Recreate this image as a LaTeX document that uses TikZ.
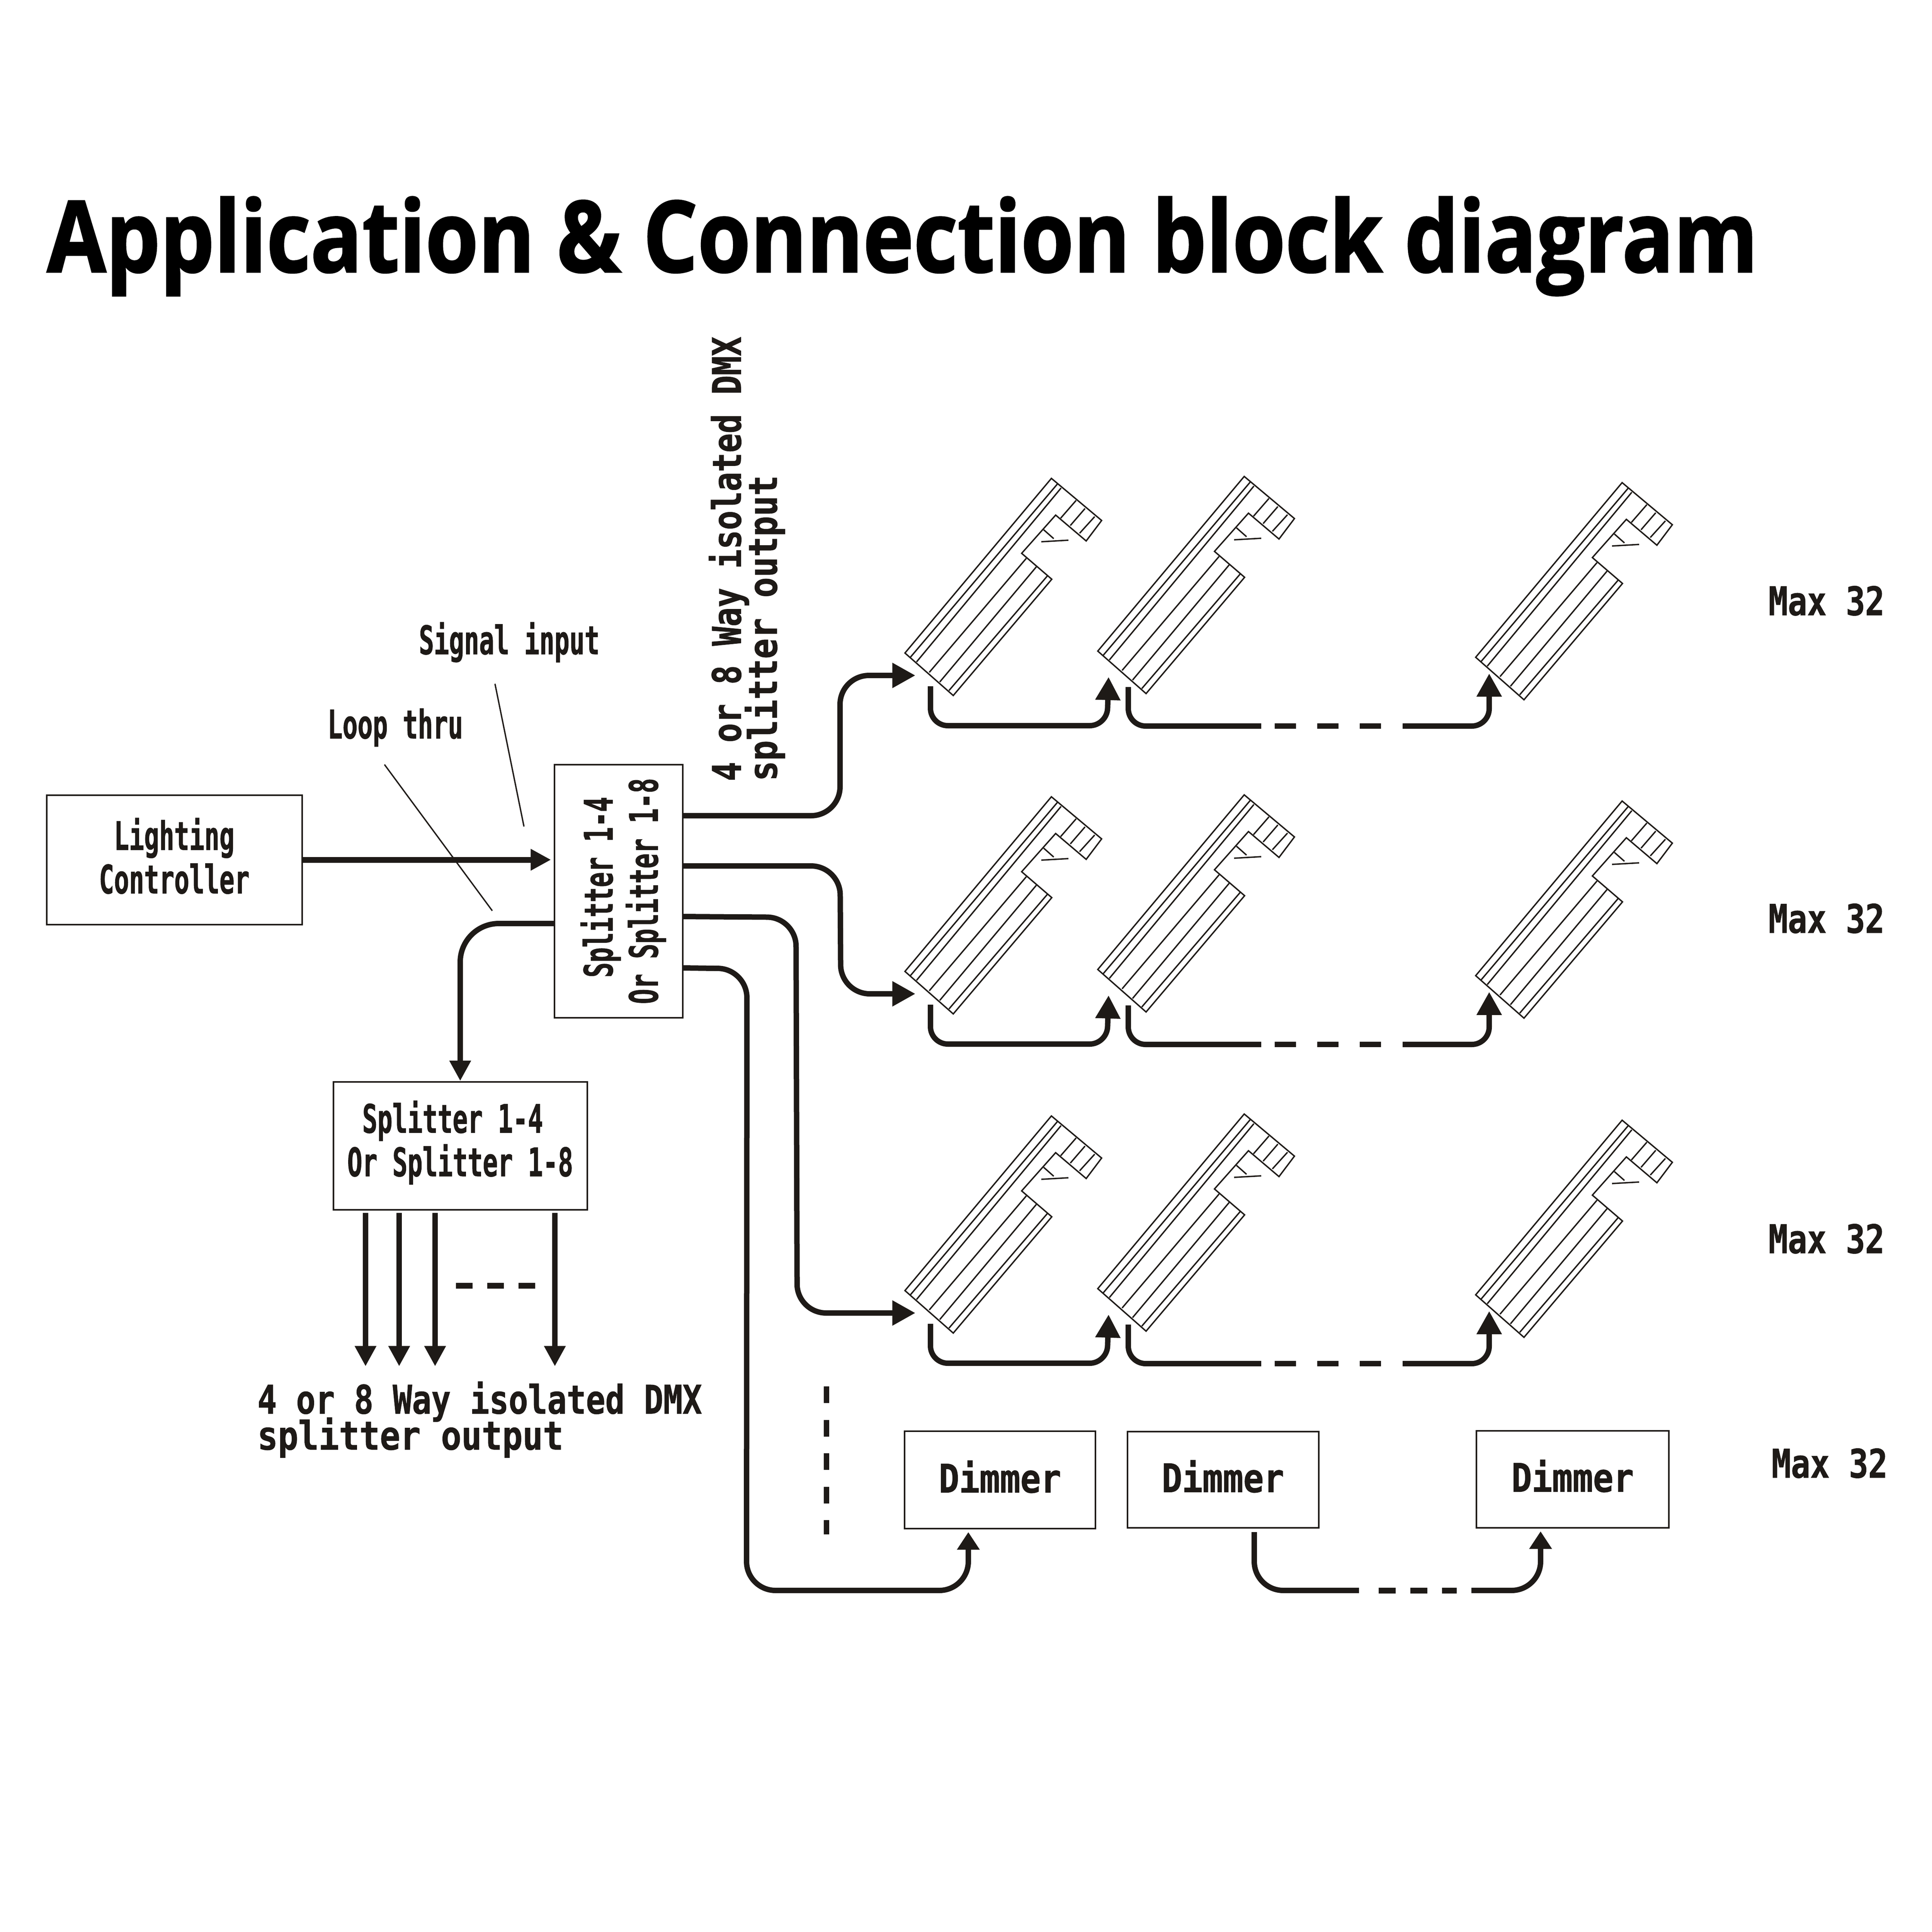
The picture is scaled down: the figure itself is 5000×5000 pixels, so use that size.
\documentclass[tikz,border=0pt]{standalone}
\usepackage{fontspec}
\usetikzlibrary{arrows.meta}
\newfontfamily\titlefont[FakeStretch=0.863,BoldFeatures={FakeBold=1.5}]{Open Sans}
\newfontfamily\narrowfont[FakeStretch=0.635,BoldFeatures={FakeBold=1}]{DejaVu Sans Mono}
\newfontfamily\widefont[FakeStretch=0.815,BoldFeatures={FakeBold=1}]{DejaVu Sans Mono}
\newfontfamily\widerfont[FakeStretch=0.86,BoldFeatures={FakeBold=1}]{DejaVu Sans Mono}
\newcommand\tightlines{\lineskiplimit=-50pt\relax}
\newdimen\px \px=0.1mm
\definecolor{ink}{HTML}{1E1A17}

\begin{document}
\begin{tikzpicture}[
    x=0.1mm, y=-0.1mm,
    box/.style={draw=ink, line width=4\px, inner sep=0pt, align=center, text=ink},
    narrow/.style={font=\narrowfont\bfseries\fontsize{29pt}{32pt}\selectfont, text=ink},
    wide/.style={font=\widefont\bfseries\fontsize{29pt}{26.5pt}\selectfont\tightlines, text=ink},
    wider/.style={font=\widerfont\bfseries\fontsize{29pt}{26.5pt}\selectfont, text=ink},
    link/.style={draw=ink, line width=14\px, rounded corners=45\px},
    feed/.style={draw=ink, line width=14\px, rounded corners=75\px},
    gap/.style={draw=ink, line width=14\px, dash pattern=on 55\px off 55\px},
    bigtip/.style={-{Triangle[length=17pt,width=17.6pt]}},
    midtip/.style={-{Triangle[length=15pt,width=15pt]}},
    smalltip/.style={-{Triangle[length=13pt,width=16pt]}},
    leader/.style={draw=ink, line width=3.5\px},
    lampline/.style={draw=ink, line width=3.6\px},
    lamp/.pic={
        \draw[lampline] (0,0) -- (379,-452) -- (509,-343) -- (469,-290) -- (390,-357) -- (302,-258) -- (380,-191) -- (125,110) -- cycle;
        % long ribs
        \draw[lampline] (14,11) -- (395,-438);
        \draw[lampline] (30,23) -- (404,-427);
        \draw[lampline] (63,50) -- (314,-245);
        \draw[lampline] (90,75) -- (340,-223);
        \draw[lampline] (114,97) -- (369,-200);
        % head ribs
        \draw[lampline] (403,-349) -- (443,-395);
        \draw[lampline] (428,-330) -- (466,-374);
        \draw[lampline] (452,-310) -- (491,-353);
        \draw[lampline] (359,-319) -- (385,-296);
        \draw[lampline] (353,-288) -- (423,-292);
        \coordinate (-in) at (27,58);
        \coordinate (-out) at (66,86);
        \coordinate (-out2) at (79,93);
        \coordinate (-ret) at (28,67);
        \coordinate (-end) at (35,42);
    }
]
    \useasboundingbox (0,0) rectangle (5000,5000);

    % Title
    \node[font=\titlefont\bfseries\fontsize{73pt}{80pt}\selectfont, anchor=base west, inner sep=0pt] (title) at (121,704) {Application \& Connection block diagram};

    % Left column
    \node[box, narrow, minimum width=661\px, minimum height=335\px] (ctrl) at (451,2225) {Lighting\\Controller\rule[-6pt]{0pt}{6pt}};
    \node[box, minimum width=332\px, minimum height=655\px] (split) at (1601,2306) {};
    \node[narrow, rotate=90, align=center] (splittxt) at (1613,2306) {\hspace*{5.7pt}Splitter 1-4\\[1.3pt]Or Splitter 1-8};
    \node[box, narrow, minimum width=657\px, minimum height=331\px] (split2) at (1191,2965) {Splitter 1-4\phantom{x}\\Or Splitter 1-8\rule[-10.6pt]{0pt}{10.6pt}};

    \node[narrow, anchor=base] (siglbl) at (1318,1693) {Signal input};
    \node[narrow, anchor=base] (looplbl) at (1023,1911) {Loop thru};
    \coordinate (sigend) at (1356,2139);
    \coordinate (loopend) at (1274,2357);
    \draw[leader] ([shift={(-37,43)}]siglbl.south) -- (sigend);
    \draw[leader] ([shift={(-28,34)}]looplbl.south) -- (loopend);

    \draw[link, midtip, line width=15\px, shorten >=2pt] (ctrl.east) -- (ctrl.east -| split.west);
    \draw[link, midtip, rounded corners=100\px] (split.west |- 0,2390) -| (split2.north);

    % Second splitter outputs
    \coordinate (sa1) at (946,3139);
    \coordinate (sa2) at (1033,3139);
    \coordinate (sa3) at (1126,3139);
    \coordinate (sa4) at (1436,3139);
    \coordinate (sb1) at (946,3536);
    \coordinate (sb2) at (1033,3536);
    \coordinate (sb3) at (1126,3536);
    \coordinate (sb4) at (1436,3536);
    \draw[link, midtip] (sa1) -- (sb1);
    \draw[link, midtip] (sa2) -- (sb2);
    \draw[link, midtip] (sa3) -- (sb3);
    \draw[link, midtip] (sa4) -- (sb4);
    \coordinate (sd1) at (1180,3327);
    \coordinate (sd2) at (1390,3327);
    \draw[draw=ink, line width=15\px, dash pattern=on 43\px off 38\px] (sd1) -- (sd2);

    \node[wide, anchor=west, align=left] (outlbl) at (654,3674) {4 or 8 Way isolated DMX\\\widerfont\bfseries splitter output};
    \node[wide, rotate=90, anchor=west, align=left] (outlbl2) at (1933,2034) {4 or 8 Way isolated DMX\\\widerfont\bfseries splitter output};

    % Dimmer row
    \node[box, wider, minimum width=494\px, minimum height=252\px] (dim1) at (2588,3830) {Dimmer\rule[-5pt]{0pt}{5pt}};
    \node[box, wider, minimum width=495\px, minimum height=249\px] (dim2) at (3165,3829) {Dimmer\rule[-5pt]{0pt}{5pt}};
    \node[box, wider, minimum width=498\px, minimum height=251\px] (dim3) at (4070,3828) {Dimmer\rule[-5pt]{0pt}{5pt}};
    \coordinate (dim1in) at (2506,3965);
    \coordinate (dim2out) at (3246,3965);
    \coordinate (dim3in) at (3987,3963);
    \coordinate (dots1) at (2139,3588);
    \coordinate (dots2) at (2139,3971);
    \draw[draw=ink, line width=14\px, dash pattern=on 43\px off 43.5\px] (dots1) -- (dots2);

    \draw[feed] (dim2out) |- (3517,4116);
    \coordinate (dg1) at (3568,4116);
    \coordinate (dg2) at (3770,4116);
    \draw[draw=ink, line width=15\px, dash pattern=on 44\px off 38\px] (dg1) -- (dg2);
    \coordinate (dg3) at (3808,4116);
    \draw[feed, smalltip] (dg3) -| (dim3in);

    % Lamps, one row per splitter output
    \pic (l11) at (2342,1690) {lamp};
    \pic (l12) at (2841,1685) {lamp};
    \pic (l13) at (3819,1701) {lamp};
    \pic (l21) at (2342,2514) {lamp};
    \pic (l22) at (2841,2509) {lamp};
    \pic (l23) at (3819,2525) {lamp};
    \pic (l31) at (2342,3340) {lamp};
    \pic (l32) at (2841,3335) {lamp};
    \pic (l33) at (3819,3351) {lamp};

    % Splitter to rows
    \draw[feed, bigtip] (split.east |- 0,2111) -- (2174,2111) -- (2174,1748) -- (l11-in);
    \draw[feed, bigtip] (split.east |- 0,2241) -- (2174,2241) -- (2176,2572) -- (l21-in);
    \draw[feed, bigtip] (split.east |- 0,2372) -- (2060,2374) -- (2063,3398) -- (l31-in);
    \draw[feed, smalltip] (split.east |- 0,2505) -- (1933,2507) -- (1932,4116) -- (2506,4116) -- (dim1in);

    % Row 1
    \draw[link, bigtip] (l11-out) |- ++(457,102) -- (l12-ret);
    \draw[link] (l12-out2) |- ++(344,101) coordinate (r1a);
    \draw[gap] (r1a) ++(35,0) -- ++(275,0);
    \draw[link, bigtip] (r1a) ++(366,0) -| (l13-end);

    % Row 2
    \draw[link, bigtip] (l21-out) |- ++(457,102) -- (l22-ret);
    \draw[link] (l22-out2) |- ++(344,101) coordinate (r2a);
    \draw[gap] (r2a) ++(35,0) -- ++(275,0);
    \draw[link, bigtip] (r2a) ++(366,0) -| (l23-end);

    % Row 3
    \draw[link, bigtip] (l31-out) |- ++(457,102) -- (l32-ret);
    \draw[link] (l32-out2) |- ++(344,101) coordinate (r3a);
    \draw[gap] (r3a) ++(35,0) -- ++(275,0);
    \draw[link, bigtip] (r3a) ++(366,0) -| (l33-end);

    % Counts
    \node[wide, anchor=base] (max1) at (4727,1592) {Max 32};
    \node[wide, anchor=base] (max2) at (4727,2414) {Max 32};
    \node[wide, anchor=base] (max3) at (4727,3243) {Max 32};
    \node[wide, anchor=base] (max4) at (4735,3824) {Max 32};
\end{tikzpicture}
\end{document}
